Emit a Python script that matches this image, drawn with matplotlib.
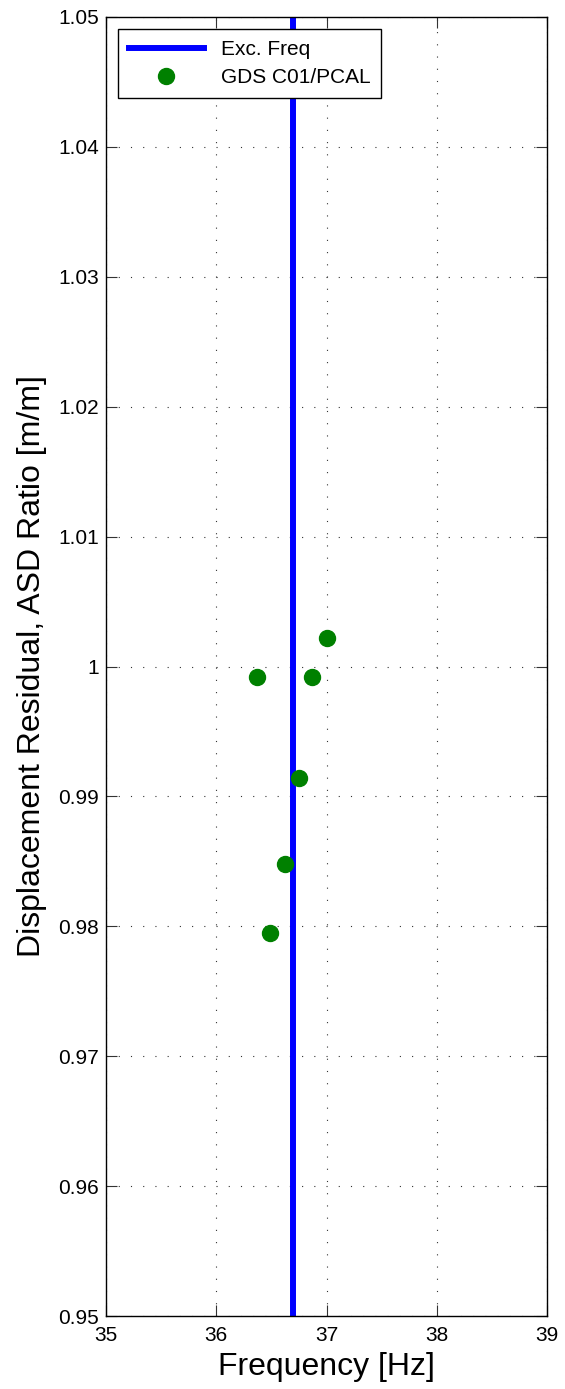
import numpy as np
import matplotlib.pyplot as plt

plt.rcParams['font.family'] = ['Liberation Sans', 'DejaVu Sans']

exc_freq = 36.70
freq = [37.00, 36.37, 36.87, 36.75, 36.62, 36.49]
ratio = [1.0022, 0.9992, 0.9992, 0.9914, 0.9848, 0.9795]
xticks = [35, 36, 37, 38, 39]
yticks = [0.95, 0.96, 0.97, 0.98, 0.99, 1.0, 1.01, 1.02, 1.03, 1.04, 1.05]
ytick_labels = ['0.95', '0.96', '0.97', '0.98', '0.99', '1', '1.01', '1.02', '1.03', '1.04', '1.05']

fig = plt.figure(figsize=(5.65, 13.89), dpi=100)
ax = fig.add_axes([0.1876, 0.0525, 0.7806, 0.9353])

ax.axvline(exc_freq, color='#0000ff', lw=4.3, label='Exc. Freq')
ax.plot(freq, ratio, 'o', color='#008000', ms=11.5, ls='none', label='GDS C01/PCAL')

ax.set_xlim(35, 39)
ax.set_ylim(0.95, 1.05)
ax.set_xticks(xticks)
ax.set_yticks(yticks)
ax.set_yticklabels(ytick_labels)
ax.tick_params(direction='in', top=True, right=True, labelsize=15, length=8,
               color='#333333')
ax.tick_params(axis='x', pad=7)
ax.tick_params(axis='y', pad=5)
ax.grid(True, ls=(0, (1, 10)), color='#333333', lw=0.8)
for s in ax.spines.values():
    s.set_linewidth(1.0)

ax.set_xlabel('Frequency [Hz]', fontsize=23, labelpad=5)
ax.set_ylabel('Displacement Residual, ASD Ratio [m/m]', fontsize=23, labelpad=8)

leg = ax.legend(loc='upper left', fontsize=15, fancybox=False, framealpha=1,
                edgecolor='black', handlelength=3.6, borderaxespad=0.6,
                borderpad=0.5, labelspacing=0.45)
leg.get_frame().set_linewidth(1.0)

fig.savefig('out.png', dpi=100)
